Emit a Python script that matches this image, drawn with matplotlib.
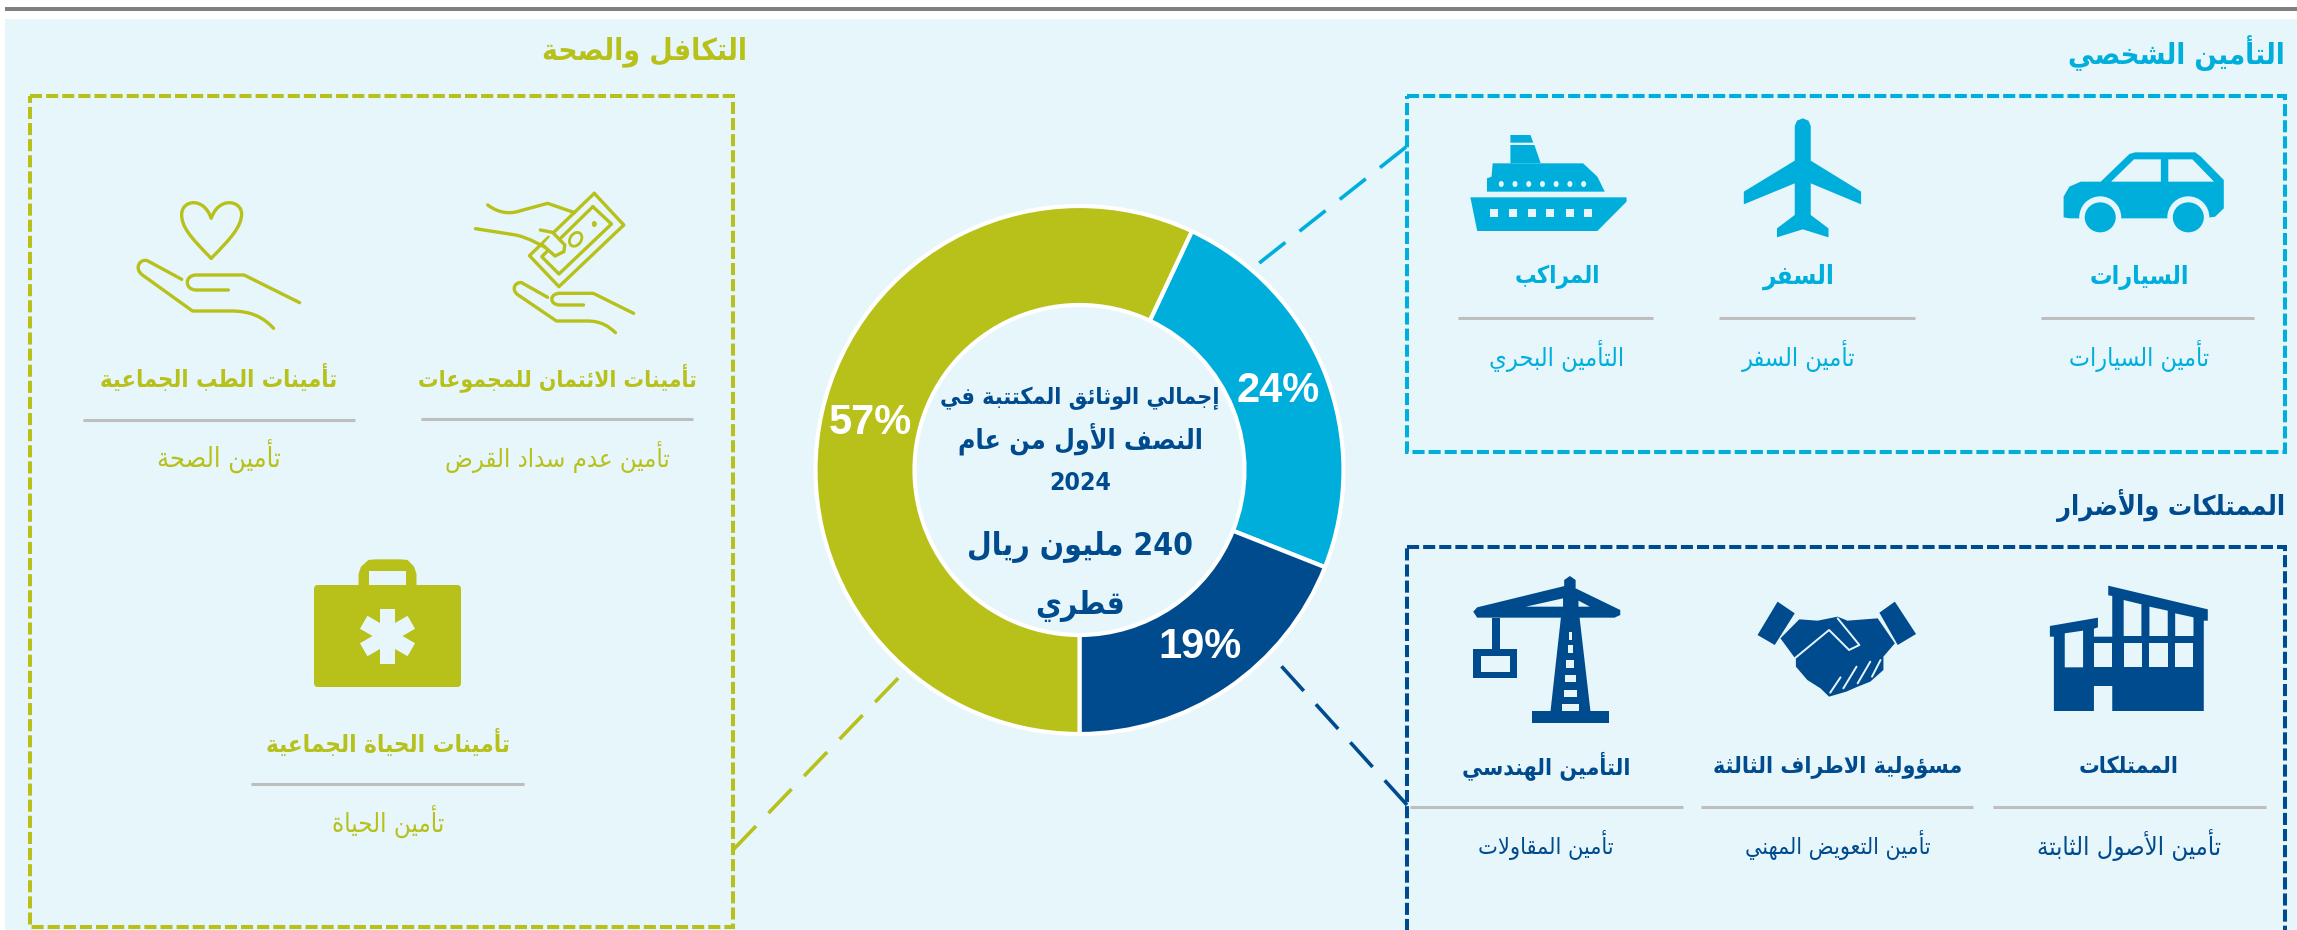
import re

import numpy as np
import matplotlib
matplotlib.use("Agg")
import matplotlib.pyplot as plt
from matplotlib.patches import Ellipse, FancyBboxPatch, PathPatch, Polygon, Rectangle
from matplotlib.path import Path

OLIVE = "#B7C11A"
CYAN = "#00AEDC"
NAVY = "#004B8D"
BG = "#E6F6FB"
GRAY = "#BEBEBE"

# chart data
segment_names = ["التأمين الشخصي", "الممتلكات والأضرار", "التكافل والصحة"]
segment_values = [24, 19, 57]
segment_colors = [CYAN, NAVY, OLIVE]

center_lines = ["إجمالي الوثائق المكتتبة في", "النصف الأول من عام", "2024", "240 مليون ريال", "قطري"]
center_y = [398, 439, 483, 547, 606]
center_w = [280, 245, 62, 225, 90]

olive_main = ["تأمينات الائتمان للمجموعات", "تأمينات الطب الجماعية", "تأمينات الحياة الجماعية"]
olive_sub = ["تأمين عدم سداد القرض", "تأمين الصحة", "تأمين الحياة"]
cyan_main = ["السيارات", "السفر", "المراكب"]
cyan_sub = ["تأمين السيارات", "تأمين السفر", "التأمين البحري"]
navy_main = ["الممتلكات", "مسؤولية الاطراف الثالثة", "التأمين الهندسي"]
navy_sub = ["تأمين الأصول الثابتة", "تأمين التعويض المهني", "تأمين المقاولات"]

# layout of the labels, in pixels: centre x, line x0, line x1, y main, y line, y sub, width main, width sub
olive_pos = [(557, 421, 693, 378, 419, 457, 278, 225),
             (219, 83, 355, 378, 420, 457, 238, 124),
             (388, 251, 524, 743, 784, 822, 244, 113)]
cyan_pos = [(2139, 2041, 2254, 277, 318, 356, 100, 140),
            (1799, 1719, 1915, 277, 318, 356, 72, 114),
            (1557, 1458, 1653, 277, 318, 356, 86, 136)]
navy_pos = [(2129, 1993, 2266, 766, 807, 845, 100, 184),
            (1838, 1701, 1973, 766, 807, 845, 248, 186),
            (1546, 1410, 1683, 766, 807, 845, 168, 136)]

# arabic shaping, matplotlib does not do it by itself
FORMS = {"ء": (0xFE80, 1), "آ": (0xFE81, 2), "أ": (0xFE83, 2), "ؤ": (0xFE85, 2), "إ": (0xFE87, 2),
         "ئ": (0xFE89, 4), "ا": (0xFE8D, 2), "ب": (0xFE8F, 4), "ة": (0xFE93, 2), "ت": (0xFE95, 4),
         "ث": (0xFE99, 4), "ج": (0xFE9D, 4), "ح": (0xFEA1, 4), "خ": (0xFEA5, 4), "د": (0xFEA9, 2),
         "ذ": (0xFEAB, 2), "ر": (0xFEAD, 2), "ز": (0xFEAF, 2), "س": (0xFEB1, 4), "ش": (0xFEB5, 4),
         "ص": (0xFEB9, 4), "ض": (0xFEBD, 4), "ط": (0xFEC1, 4), "ظ": (0xFEC5, 4), "ع": (0xFEC9, 4),
         "غ": (0xFECD, 4), "ف": (0xFED1, 4), "ق": (0xFED5, 4), "ك": (0xFED9, 4), "ل": (0xFEDD, 4),
         "م": (0xFEE1, 4), "ن": (0xFEE5, 4), "ه": (0xFEE9, 4), "و": (0xFEED, 2), "ى": (0xFEEF, 2),
         "ي": (0xFEF1, 4)}
LAM_ALEF = {"آ": 0xFEF5, "أ": 0xFEF7, "إ": 0xFEF9, "ا": 0xFEFB}


def shape(text):
    out = []
    i = 0
    while i < len(text):
        c = text[i]
        if c not in FORMS:
            out.append(c)
            i += 1
            continue
        prev_joins = i > 0 and text[i - 1] in FORMS and FORMS[text[i - 1]][1] == 4
        if c == "ل" and i + 1 < len(text) and text[i + 1] in LAM_ALEF:
            out.append(chr(LAM_ALEF[text[i + 1]] + (1 if prev_joins else 0)))
            i += 2
            continue
        base, count = FORMS[c]
        next_joins = i + 1 < len(text) and text[i + 1] in FORMS and FORMS[text[i + 1]][1] >= 2
        if count == 1:
            code = base
        elif count == 2:
            code = base + 1 if prev_joins else base
        elif prev_joins and next_joins:
            code = base + 3
        elif prev_joins:
            code = base + 1
        elif next_joins:
            code = base + 2
        else:
            code = base
        out.append(chr(code))
        i += 1
    visual = "".join(out)[::-1]
    return re.sub(r"\d+", lambda m: m.group()[::-1], visual)


fig = plt.figure(figsize=(22.97, 9.30), dpi=100, facecolor="white")
ax = fig.add_axes([0, 0, 1, 1])
ax.set_xlim(0, 2297)
ax.set_ylim(930, 0)
ax.axis("off")
renderer = fig.canvas.get_renderer()


def fit_text(x, y, s, width, color, weight="bold", ha="center"):
    t = ax.text(x, y, shape(s), fontsize=20, ha=ha, va="center", color=color, fontweight=weight,
                family="DejaVu Sans", fontstretch="condensed", zorder=5)
    t.set_fontsize(20 * width / t.get_window_extent(renderer).width)
    return t


def mapper(ox, oy, sx):
    # icons were traced on stretched crops of the picture
    return lambda pts: [(ox + x / sx, oy + y / 3) for x, y in pts]


z1 = mapper(0, 0, 2.036)
z2 = mapper(0, 500, 2.036)
z4 = mapper(1400, 0, 1.748)
z5 = mapper(1400, 470, 1.748)


def fill(z, pts, color):
    ax.add_patch(Polygon(z(pts), closed=True, facecolor=color, edgecolor="none", zorder=3))


def box(z, x0, y0, x1, y1, color):
    fill(z, [(x0, y0), (x1, y0), (x1, y1), (x0, y1)], color)


def oval(z, cx, cy, w, h, color):
    (x, y), = z([(cx, cy)])
    ax.add_patch(Ellipse((x, y), w, h, facecolor=color, edgecolor="none", zorder=3))


def stroke(z, pts, codes=None, color=OLIVE, lw=2.4):
    path = Path(z(pts), codes)
    ax.add_patch(PathPatch(path, facecolor="none", edgecolor=color, lw=lw, capstyle="round",
                           joinstyle="round", zorder=3))


M, L, C = Path.MOVETO, Path.LINETO, Path.CURVE4

# background
ax.add_patch(Rectangle((5, 7), 2292, 4, facecolor="#808080", edgecolor="none"))
ax.add_patch(Rectangle((5, 19), 2292, 911, facecolor=BG, edgecolor="none"))

# dashed boxes
for (x0, y0, x1, y1), col in [((30, 96, 733, 927), OLIVE), ((1407, 96, 2285, 452), CYAN), ((1407, 547, 2285, 960), NAVY)]:
    ax.add_patch(Rectangle((x0, y0), x1 - x0, y1 - y0, facecolor="none", edgecolor=col, lw=2.9,
                           linestyle=(0, (3, 1)), zorder=2))

# connectors, drawn from the box so the dashes touch it
dash = (0, (9.2, 5))
ax.plot([1406, 1253], [147, 268], color=CYAN, lw=2.6, linestyle=dash, zorder=2)
ax.plot([1407, 1274], [805, 658], color=NAVY, lw=2.6, linestyle=dash, zorder=2)
ax.plot([733, 906], [850, 670], color=OLIVE, lw=2.6, linestyle=dash, zorder=2)

# titles
fit_text(747, 52, segment_names[2], 205, OLIVE, ha="right")
fit_text(2285, 53, segment_names[0], 216, CYAN, ha="right")
fit_text(2285, 505, segment_names[1], 228, NAVY, ha="right")

# item labels
for mains, subs, pos, col in [(olive_main, olive_sub, olive_pos, OLIVE),
                              (cyan_main, cyan_sub, cyan_pos, CYAN),
                              (navy_main, navy_sub, navy_pos, NAVY)]:
    for m, s, (cx, lx0, lx1, ym, yl, ys, wm, ws) in zip(mains, subs, pos):
        fit_text(cx, ym, m, wm, col)
        ax.plot([lx0, lx1], [yl, yl], color=GRAY, lw=2.2, solid_capstyle="butt", zorder=2)
        fit_text(cx, ys, s, ws, col, weight="normal")

# centre of the ring
for s, y, w in zip(center_lines, center_y, center_w):
    fit_text(1080, y, s, w, NAVY)

# car
fill(z4, [(1160, 652), (1160, 590), (1170, 560), (1190, 545), (1225, 545), (1275, 462), (1285, 457), (1390, 457),
          (1400, 470), (1440, 540), (1440, 625), (1425, 650), (1405, 655), (1170, 655)], CYAN)
fill(z4, [(1243, 545), (1283, 478), (1330, 478), (1330, 545)], BG)
fill(z4, [(1343, 478), (1385, 478), (1423, 545), (1343, 545)], BG)
for wx in (1224, 1378):
    oval(z4, wx, 652, 42, 42, BG)
    oval(z4, wx, 652, 31, 30, CYAN)

# plane
fill(z4, [(704, 355), (714, 362), (718, 378), (718, 482), (806, 575), (806, 613), (718, 550), (718, 645), (749, 685),
          (749, 712), (704, 688), (659, 712), (659, 685), (690, 645), (690, 550), (601, 613), (601, 575), (690, 482),
          (690, 378), (694, 362)], CYAN)

# ship
fill(z4, [(123, 592), (396, 592), (396, 605), (345, 693), (135, 693)], CYAN)
for wx in (158, 191, 224, 256, 290, 322):
    box(z4, wx, 627, wx + 14, 652, BG)
fill(z4, [(152, 575), (358, 575), (345, 530), (320, 490), (162, 490), (160, 530), (152, 535)], CYAN)
for wx in (177, 201, 225, 249, 273, 297, 321):
    oval(z4, wx, 552, 5, 6, BG)
fill(z4, [(193, 490), (246, 490), (235, 435), (193, 435)], CYAN)
fill(z4, [(193, 405), (228, 405), (233, 428), (193, 428)], CYAN)

# building
fill(z5, [(1238, 347), (1412, 418), (1412, 452), (1405, 452), (1405, 723), (1245, 723), (1245, 648), (1213, 648),
          (1213, 723), (1143, 723), (1143, 500), (1136, 500), (1136, 468), (1220, 443), (1220, 472), (1213, 476),
          (1213, 500), (1245, 500), (1245, 378), (1238, 376)], NAVY)
fill(z5, [(1265, 390), (1296, 403), (1296, 498), (1265, 498)], BG)
fill(z5, [(1310, 410), (1342, 422), (1342, 498), (1310, 498)], BG)
fill(z5, [(1355, 430), (1387, 442), (1387, 498), (1355, 498)], BG)
fill(z5, [(1162, 490), (1194, 482), (1194, 592), (1162, 592)], BG)
for wx in (1213, 1265, 1310, 1355):
    box(z5, wx, 520, wx + 32, 592, BG)

# handshake
fill(z5, [(660, 395), (690, 430), (655, 525), (625, 495)], NAVY)
fill(z5, [(865, 395), (902, 492), (870, 525), (838, 428)], NAVY)
fill(z5, [(698, 448), (730, 452), (765, 440), (782, 452), (835, 445), (865, 520), (845, 560), (845, 600), (822, 635),
          (800, 650), (780, 665), (750, 680), (735, 655), (712, 630), (692, 590), (692, 568), (665, 505)], NAVY)
stroke(z5, [(690, 565), (750, 480), (785, 540), (803, 525), (765, 445)], color=BG, lw=1.4)
for a, b in [((752, 668), (770, 622)), ((775, 655), (798, 590)), ((800, 640), (822, 575)), ((825, 620), (840, 570))]:
    stroke(z5, [a, b], color=BG, lw=1.4)

# crane
fill(z5, [(285, 385), (310, 385), (333, 725), (263, 725)], NAVY)
for y0, y1, dx in [(485, 510, 3), (525, 550, 5), (570, 595, 7), (615, 637, 10), (660, 682, 12), (703, 723, 15)]:
    box(z5, 298 - dx, y0, 298 + dx, y1, BG)
box(z5, 231, 724, 365, 758, NAVY)
fill(z5, [(287, 355), (287, 330), (297, 318), (307, 330), (307, 355)], NAVY)
fill(z5, [(128, 425), (135, 412), (290, 347), (307, 355), (385, 420), (385, 435), (375, 443), (135, 443)], NAVY)
fill(z5, [(220, 410), (285, 385), (285, 410)], BG)
fill(z5, [(312, 392), (332, 410), (312, 410)], BG)
box(z5, 160, 443, 174, 540, NAVY)
box(z5, 128, 538, 205, 625, NAVY)
box(z5, 141, 558, 193, 605, BG)

# heart and hand
stroke(z1, [(430, 775), (390, 715), (368, 680), (370, 640), (372, 600), (415, 590), (430, 655), (445, 590), (490, 600),
            (492, 640), (492, 680), (470, 715), (430, 775)], [M, C, C, C, C, C, C, C, C, C, C, C, C])
stroke(z1, [(370, 838), (300, 782), (285, 775), (272, 805), (290, 825), (392, 933), (470, 933), (510, 933), (535, 950),
            (557, 985)], [M, L, C, C, C, L, L, C, C, C])
stroke(z1, [(610, 908), (497, 825), (400, 825), (375, 825), (375, 870), (400, 870), (465, 870)],
       [M, L, L, C, C, C, L])

# money and hands
stroke(z1, [(1115, 892), (1062, 848), (1048, 845), (1040, 870), (1055, 885), (1133, 963), (1195, 963), (1225, 963),
            (1240, 980), (1253, 998)], [M, L, C, C, C, L, L, C, C, C])
stroke(z1, [(1290, 940), (1208, 880), (1140, 880), (1118, 880), (1118, 915), (1140, 915), (1188, 915)],
       [M, L, L, C, C, C, L])
stroke(z1, [(1210, 580), (1270, 675), (1138, 860), (1078, 767), (1210, 580)])
stroke(z1, [(1207, 620), (1245, 672), (1138, 822), (1103, 770), (1207, 620)])
stroke(z1, [(993, 615), (1020, 645), (1045, 640), (1060, 632), (1115, 610), (1170, 638)], [M, C, C, C, L, L])
stroke(z1, [(968, 686), (1050, 705), (1080, 715), (1100, 735), (1120, 750)], [M, L, C, C, C])
fill(z1, [(1100, 690), (1125, 697), (1150, 735), (1148, 755), (1130, 768), (1105, 735), (1120, 710)], BG)
stroke(z1, [(1100, 690), (1125, 697), (1150, 735), (1148, 755), (1130, 768), (1105, 735)])
oval(z1, 1210, 672, 5, 6, OLIVE)
ax.add_patch(Ellipse(z1([(1172, 718)])[0], 11, 15, angle=35, facecolor="none", edgecolor=OLIVE, lw=2, zorder=3))

# medical bag
ax.add_patch(FancyBboxPatch((318, 589), 139, 94, boxstyle="round,pad=4", facecolor=OLIVE, edgecolor="none", zorder=3))
fill(z2, [(730, 255), (730, 222), (735, 200), (750, 180), (765, 178), (815, 178), (830, 180), (843, 200), (848, 222),
          (848, 255)], OLIVE)
box(z2, 752, 212, 826, 255, BG)
star_c = np.array(z2([(789, 408)])[0])
arm = np.array([[-7.5, -27.5], [7.5, -27.5], [7.5, 27.5], [-7.5, 27.5]])
for deg in (0, 60, 120):
    a = np.radians(deg)
    rot = np.array([[np.cos(a), -np.sin(a)], [np.sin(a), np.cos(a)]])
    ax.add_patch(Polygon(arm @ rot.T + star_c, closed=True, facecolor=BG, edgecolor="none", zorder=4))

# ring
cx, cy, r, pad = 1079.5, 470, 264, 6
pie_ax = fig.add_axes([(cx - r - pad) / 2297, 1 - (cy + r + pad) / 930, 2 * (r + pad) / 2297, 2 * (r + pad) / 930])
pie_ax.patch.set_alpha(0)
wedges, _, pct = pie_ax.pie(segment_values, colors=segment_colors, startangle=64.8, counterclock=False, radius=1,
                            wedgeprops=dict(width=0.375, edgecolor="white", linewidth=3), autopct="%.0f%%",
                            pctdistance=0.81, textprops=dict(color="white", fontsize=30, fontweight="bold",
                                                             family="Liberation Sans"))
pie_ax.set_xlim(-(r + pad) / r, (r + pad) / r)
pie_ax.set_ylim(-(r + pad) / r, (r + pad) / r)

fig.savefig("out.png", dpi=100, facecolor="white")
